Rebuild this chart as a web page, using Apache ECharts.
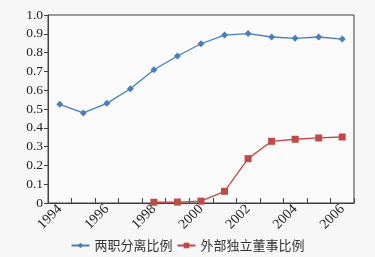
<!DOCTYPE html>
<html><head><meta charset="utf-8">
<script src="https://cdn.jsdelivr.net/npm/echarts@6/dist/echarts.min.js"></script>
<style>html,body{margin:0;padding:0;background:#f7f7f7}#c{width:375px;height:257px}</style>
</head><body><div id="c"></div>
<script>
var years = ['1994','1995','1996','1997','1998','1999','2000','2001','2002','2003','2004','2005','2006'];
var separation = [0.525,0.479,0.530,0.608,0.709,0.782,0.847,0.893,0.901,0.883,0.876,0.883,0.872];
var independent = [null,null,null,null,0.004,0.005,0.010,0.062,0.236,0.328,0.339,0.346,0.351];
var seriesNames = ['两职分离比例','外部独立董事比例'];
var serif = '"Liberation Serif","Times New Roman",serif';
var chart = echarts.init(document.getElementById('c'));
chart.setOption({
  backgroundColor:'#f7f7f7',
  animation:false,
  grid:{left:48,right:21,top:15,bottom:54,show:true,borderColor:'#404040',borderWidth:1,backgroundColor:'#fafafa'},
  legend:{bottom:0,left:'center',itemWidth:18,itemHeight:7,itemGap:4,
    textStyle:{fontFamily:'"Noto Sans CJK SC",sans-serif',fontSize:13,color:'#333'},
    data:seriesNames},
  xAxis:{type:'category',data:years,boundaryGap:true,
    axisLine:{lineStyle:{color:'#404040',width:1}},
    axisTick:{show:true,inside:true,length:5,interval:0,lineStyle:{color:'#404040'}},
    axisLabel:{interval:1,rotate:45,margin:4,fontFamily:serif,fontSize:14,color:'#222'}},
  yAxis:{type:'value',min:0,max:1,interval:0.1,
    axisLine:{show:true,lineStyle:{color:'#404040',width:1}},
    axisTick:{show:true,length:4,lineStyle:{color:'#404040'}},
    splitLine:{show:false},
    axisLabel:{margin:5,fontFamily:serif,fontSize:13.5,color:'#222',
      formatter:function(v){return v===0?'0':v.toFixed(1);}}},
  series:[
    {name:seriesNames[0],type:'line',data:separation,symbol:'diamond',symbolSize:7,
      itemStyle:{color:'#4a7ebb'},lineStyle:{color:'#4a7ebb',width:1.3}},
    {name:seriesNames[1],type:'line',data:independent,symbol:'rect',symbolSize:7,
      itemStyle:{color:'#be4b48'},lineStyle:{color:'#be4b48',width:1.3}}
  ]
});
</script></body></html>
